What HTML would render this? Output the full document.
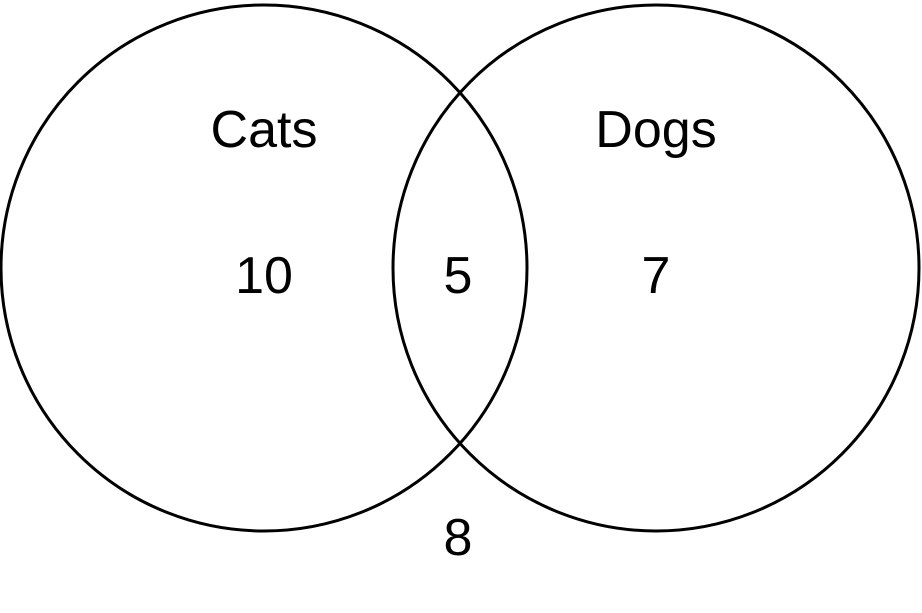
<!DOCTYPE html>
<html><head><meta charset="utf-8"><style>
html,body{margin:0;padding:0;background:#fff;}
svg{display:block;}
text{font-family:"Liberation Sans",sans-serif;fill:#000;text-anchor:middle;}
</style></head><body>
<svg id="venn" width="922" height="613" viewBox="0 0 922 613">
<circle cx="264" cy="268" r="263" fill="none" stroke="#000" stroke-width="3"/>
<circle cx="656" cy="268" r="263" fill="none" stroke="#000" stroke-width="3"/>
<text x="264" y="147" font-size="52">Cats</text>
<text x="656" y="147" font-size="52">Dogs</text>
<text id="v-cats" x="264" y="293" font-size="52">10</text>
<text id="v-both" x="458" y="293" font-size="52">5</text>
<text id="v-dogs" x="656" y="293" font-size="52">7</text>
<text id="v-none" x="458" y="555" font-size="52">8</text>
</svg>
<script>
const regions = ["cats", "both", "dogs", "none"];
const counts = [10, 5, 7, 8];
regions.forEach(function(r, i){
  document.getElementById("v-" + r).textContent = String(counts[i]);
});
</script>
</body></html>
